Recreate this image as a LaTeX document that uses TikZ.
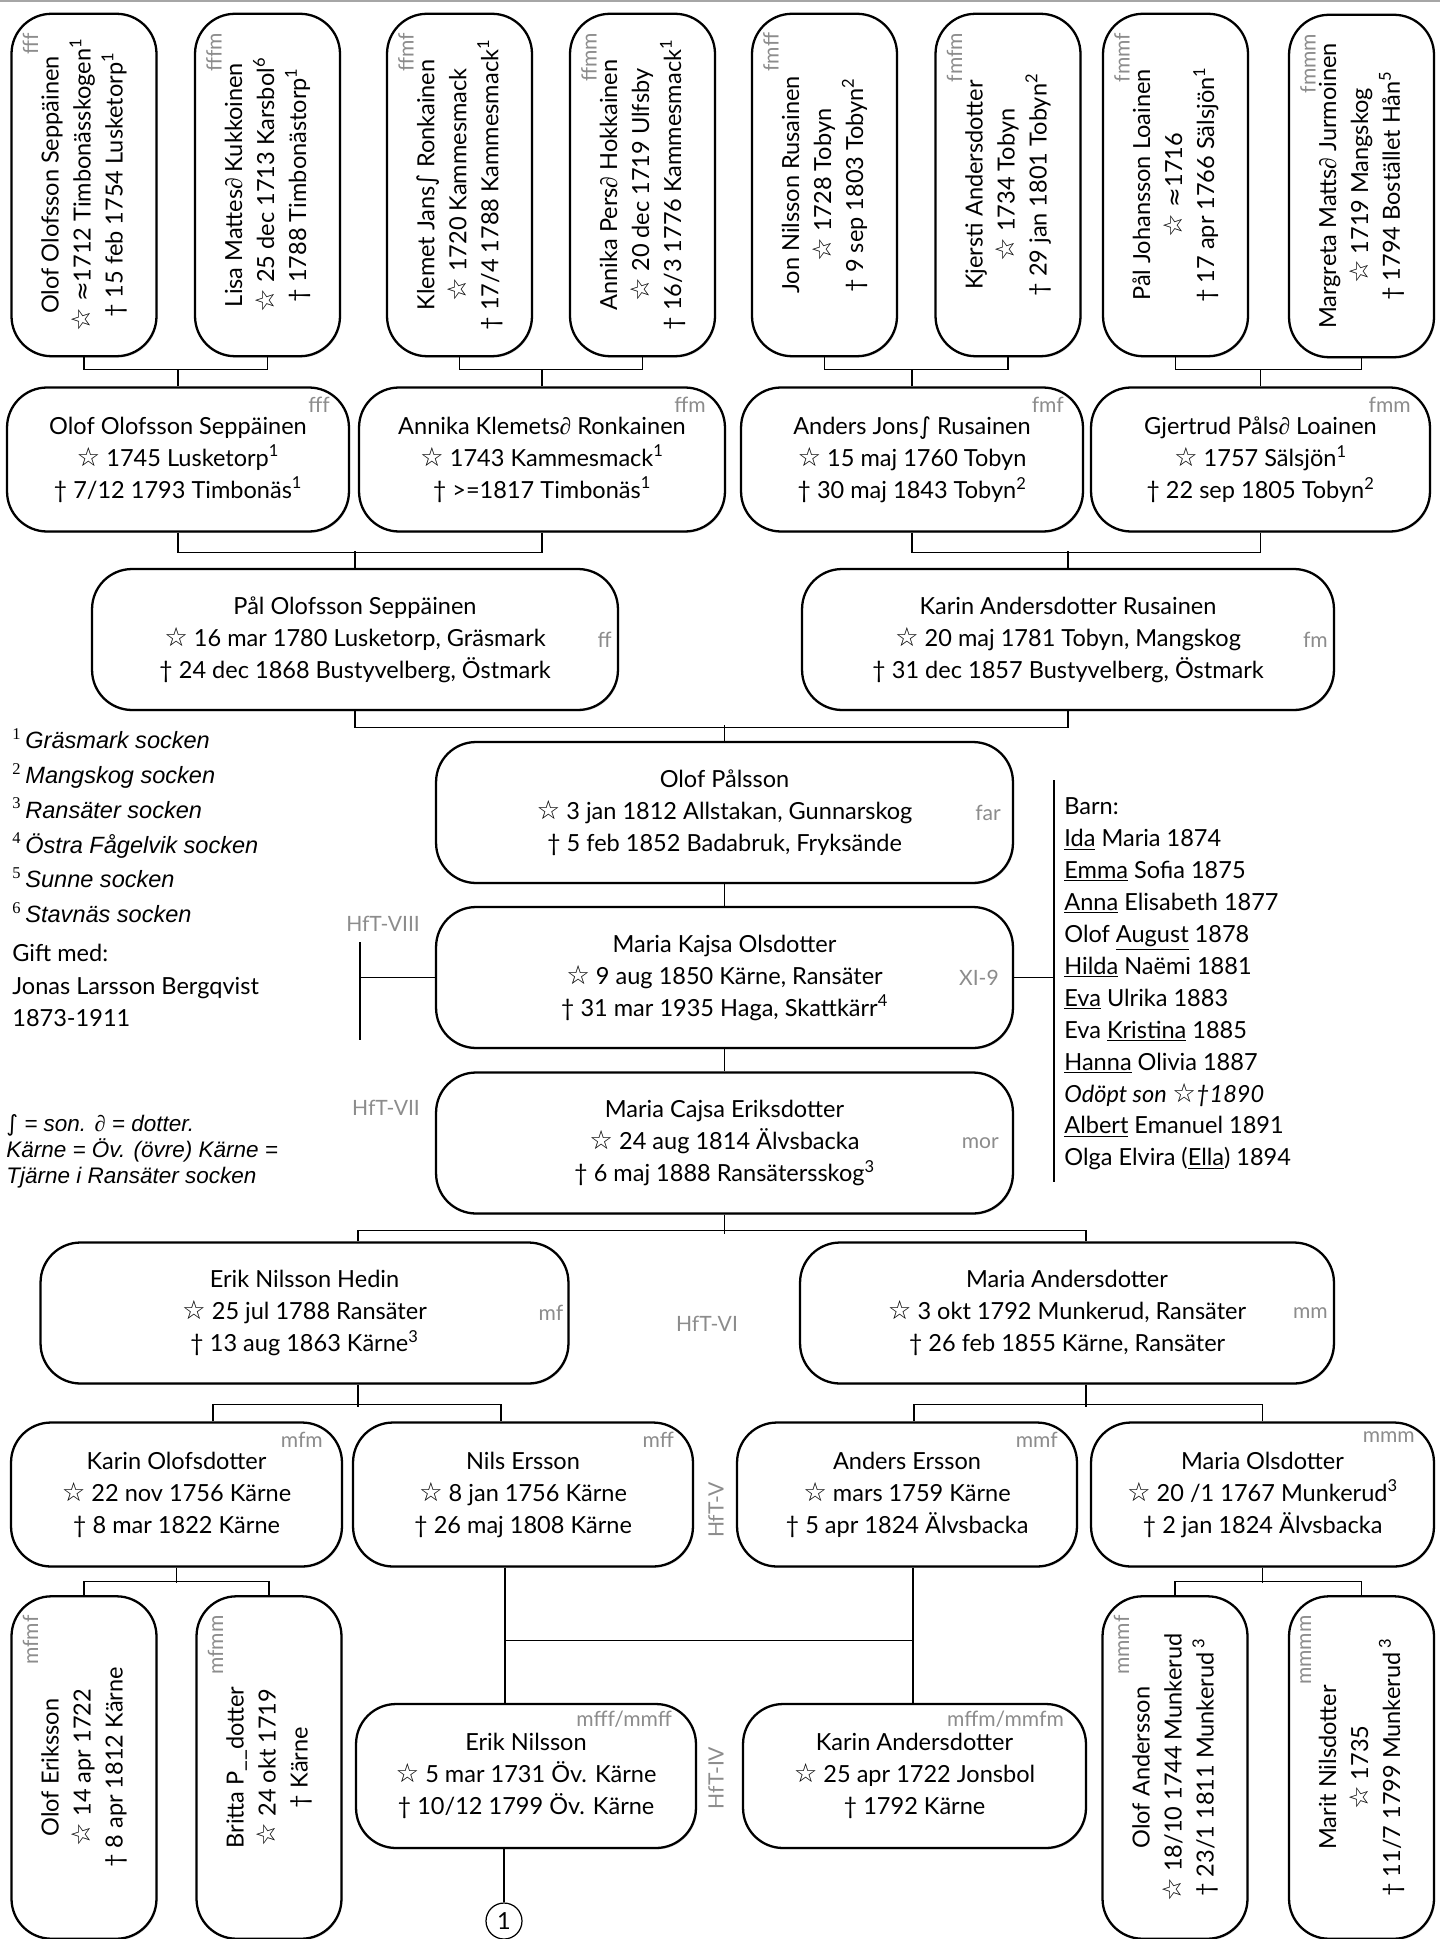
\documentclass[tikz,border=0pt]{standalone}
\usepackage{fontspec}
\setmainfont{Lato}
\newfontfamily\symfont{DejaVu Sans}
\newfontfamily\starfont[Scale=1.12]{DejaVu Sans}
\newfontfamily\notefont{Liberation Sans}
\newfontfamily\supfont{Liberation Serif}
\usetikzlibrary{shadows}

\newcommand{\born}{{\starfont ☆}}
\newcommand{\died}{†}
\newcommand{\son}{{\symfont ∫}}
\newcommand{\dtr}{{\supfont\itshape ∂}}
\newcommand{\ca}{{\symfont ≈}}
\newcommand{\fn}[1]{\textsuperscript{#1}}

\begin{document}
\begin{tikzpicture}[x=0.02cm, y=-0.02cm,
    font=\fontsize{13.4}{18.2}\selectfont,
    person/.style={draw, line width=1.3pt, rounded corners=0.8cm, fill=white,
      align=center, inner sep=0pt,
      drop shadow={shadow xshift=0.6pt, shadow yshift=-0.8pt, opacity=0.3}},
    tag/.style={text=black!45, inner sep=0pt, font=\fontsize{12}{12}\selectfont},
    link/.style={line width=0.7pt},
    note/.style={align=left, anchor=north west, inner sep=0pt}]

    \useasboundingbox (0,0) rectangle (1440,1939);
    \draw[black!35, line width=1.6pt] (0,1) -- (1440,1);

    % oldest generation, boxes turned on their side
    \foreach \n/\x/\y/\tg/\nm/\bd/\dd in {
        ffff/84/185/fff/{Olof Olofsson Seppäinen}/{\born\ \ca1712 Timbonässkogen\fn{1}}/{\died\ 15 feb 1754 Lusketorp\fn{1}},
        fffm/267.5/185/fffm/{Lisa Mattes\dtr\ Kukkoinen}/{\born\ 25 dec 1713 Karsbol\fn{6}}/{\died\ 1788 Timbonästorp\fn{1}},
        ffmf/459.5/185/ffmf/{Klemet Jans\son\ Ronkainen}/{\born\ 1720 Kammesmack}/{\died\ 17/4 1788 Kammesmack\fn{1}},
        ffmm/642.5/185/ffmm/{Annika Pers\dtr\ Hokkainen}/{\born\ 20 dec 1719 Ulfsby}/{\died\ 16/3 1776 Kammesmack\fn{1}},
        fmff/824.5/185/fmff/{Jon Nilsson Rusainen}/{\born\ 1728 Tobyn}/{\died\ 9 sep 1803 Tobyn\fn{2}},
        fmfm/1008/185/fmfm/{Kjersti Andersdotter}/{\born\ 1734 Tobyn}/{\died\ 29 jan 1801 Tobyn\fn{2}},
        fmmf/1175.5/185/fmmf/{Pål Johansson Loainen}/{\born\ \ca1716}/{\died\ 17 apr 1766 Sälsjön\fn{1}},
        fmmm/1361.5/186/fmmm/{Margreta Matts\dtr\ Jurmoinen}/{\born\ 1719 Mangskog}/{\died\ 1794 Bostället Hån\fn{5}},
        mfmf/84/1767.5/mfmf/{Olof Eriksson}/{\born\ 14 apr 1722}/{\died\ 8 apr 1812 Kärne},
        mfmm/269/1767.5/mfmm/{Britta P\_\_dotter}/{\born\ 24 okt 1719}/{\died\ Kärne},
        mmmf/1175/1767.5/mmmf/{Olof Andersson}/{\born\ 18/10 1744 Munkerud}/{\died\ 23/1 1811 Munkerud\,\fn{3}},
        mmmm/1361.5/1767.5/mmmm/{Marit Nilsdotter}/{\born\ 1735}/{\died\ 11/7 1799 Munkerud\,\fn{3}}} {
        \node[person, rotate=90, minimum width=6.85cm, minimum height=2.9cm] (\n) at (\x,\y) {\nm\\\bd\\\dd};
        \node[tag, rotate=90, anchor=north east] at ([xshift=0.24cm, yshift=-0.4cm]\n.north east) {\tg};
    }

    % boxes with the tag in the upper right corner
    \foreach \n/\x/\y/\w/\nm/\bd/\dd in {
        fff/178/459.5/6.84/{Olof Olofsson Seppäinen}/{\born\ 1745 Lusketorp\fn{1}}/{\died\ 7/12 1793 Timbonäs\fn{1}},
        ffm/542/459.5/7.32/{Annika Klemets\dtr\ Ronkainen}/{\born\ 1743 Kammesmack\fn{1}}/{\died\ >=1817 Timbonäs\fn{1}},
        fmf/912/459.5/6.84/{Anders Jons\son\ Rusainen}/{\born\ 15 maj 1760 Tobyn}/{\died\ 30 maj 1843 Tobyn\fn{2}},
        fmm/1260.5/459.5/6.78/{Gjertrud Påls\dtr\ Loainen}/{\born\ 1757 Sälsjön\fn{1}}/{\died\ 22 sep 1805 Tobyn\fn{2}},
        mfm/176.5/1494.5/6.62/{Karin Olofsdotter}/{\born\ 22 nov 1756 Kärne}/{\died\ 8 mar 1822 Kärne},
        mff/523/1494.5/6.8/{Nils Ersson}/{\born\ 8 jan 1756 Kärne}/{\died\ 26 maj 1808 Kärne},
        mmf/907/1494.5/6.8/{Anders Ersson}/{\born\ mars 1759 Kärne}/{\died\ 5 apr 1824 Älvsbacka},
        mmm/1262.5/1494.5/6.86/{Maria Olsdotter}/{\born\ 20 /1 1767 Munkerud\fn{3}}/{\died\ 2 jan 1824 Älvsbacka}} {
        \node[person, minimum width=\w cm, minimum height=2.88cm] (\n) at (\x,\y) {\nm\\\bd\\\dd};
        \node[tag, anchor=north east] at ([xshift=-0.4cm, yshift=-0.2cm]\n.north east) {\n};
    }
    \node[person, minimum width=6.8cm, minimum height=2.88cm] (mfff) at (526,1776)
        {Erik Nilsson\\\born\ 5 mar 1731 Öv. Kärne\\\died\ 10/12 1799 Öv. Kärne};
    \node[tag, anchor=north east] at ([xshift=-0.5cm, yshift=-0.16cm]mfff.north east) {mfff/mmff};
    \node[person, minimum width=6.86cm, minimum height=2.88cm] (mffm) at (914.5,1776)
        {Karin Andersdotter\\\born\ 25 apr 1722 Jonsbol\\\died\ 1792 Kärne};
    \node[tag, anchor=north east] at ([xshift=-0.46cm, yshift=-0.16cm]mffm.north east) {mffm/mmfm};

    % wide boxes with the tag at the right side
    \foreach \n/\x/\y/\w/\o/\tg/\nm/\bd/\dd in {
        ff/355/639.5/10.52/0.14/ff/{Pål Olofsson Seppäinen}/{\born\ 16 mar 1780 Lusketorp, Gräsmark}/{\died\ 24 dec 1868 Bustyvelberg, Östmark},
        fm/1068/639.5/10.64/0.14/fm/{Karin Andersdotter Rusainen}/{\born\ 20 maj 1781 Tobyn, Mangskog}/{\died\ 31 dec 1857 Bustyvelberg, Östmark},
        far/724.5/812.5/11.54/0.26/far/{Olof Pålsson}/{\born\ 3 jan 1812 Allstakan, Gunnarskog}/{\died\ 5 feb 1852 Badabruk, Fryksände},
        child/724.5/977.5/11.54/0.3/XI-9/{Maria Kajsa Olsdotter}/{\born\ 9 aug 1850 Kärne, Ransäter}/{\died\ 31 mar 1935 Haga, Skattkärr\fn{4}},
        mor/724.5/1143/11.54/0.3/mor/{Maria Cajsa Eriksdotter}/{\born\ 24 aug 1814 Älvsbacka}/{\died\ 6 maj 1888 Ransätersskog\fn{3}},
        mf/304.5/1313/10.56/0.12/mf/{Erik Nilsson Hedin}/{\born\ 25 jul 1788 Ransäter}/{\died\ 13 aug 1863 Kärne\fn{3}},
        mm/1067/1313/10.68/0.14/mm/{Maria Andersdotter}/{\born\ 3 okt 1792 Munkerud, Ransäter}/{\died\ 26 feb 1855 Kärne, Ransäter}} {
        \node[person, minimum width=\w cm, minimum height=2.82cm] (\n) at (\x,\y) {\nm\\\bd\\\dd};
        \node[tag, anchor=east] at ([xshift=-\o cm]\n.east) {\tg};
    }

    % father's side
    \foreach \p/\q/\k in {ffff/fffm/fff, ffmf/ffmm/ffm, fmff/fmfm/fmf, fmmf/fmmm/fmm} {
        \draw[link] (\p.west) -- ++(0,12.5) -| (\q.west);
        \draw[link] (\k.north) -- ++(0,-17);
    }
    \foreach \p/\q/\k in {fff/ffm/ff, fmf/fmm/fm} {
        \draw[link] (\p.south) -- ++(0,20) -| (\q.south);
        \draw[link] (\k.north) -- ++(0,-17);
    }
    \draw[link] (ff.south) -- ++(0,16) -| (fm.south);
    \draw[link] (far.north) -- ++(0,-16);
    \draw[link] (far.south) -- (child.north);
    \draw[link] (child.south) -- (mor.north);

    % mother's side
    \draw[link] (mor.south) -- ++(0,19);
    \draw[link] ([xshift=1.07cm]mf.north) -- ++(0,-11) -| ([xshift=0.38cm]mm.north);
    \draw[link] ([xshift=1.07cm]mf.south) -- ++(0,22);
    \draw[link] ([xshift=0.73cm]mfm.north) -- ++(0,-17) -| ([xshift=-0.44cm]mff.north);
    \draw[link] ([xshift=0.38cm]mm.south) -- ++(0,22);
    \draw[link] ([xshift=0.14cm]mmf.north) -- ++(0,-17) -| (mmm.north);
    \draw[link] (mfm.south) -- ++(0,15.5);
    \draw[link] (mfmf.east) -- ++(0,-14) -| (mfmm.east);
    \draw[link] (mmm.south) -- ++(0,15.5);
    \draw[link] (mmmf.east) -- ++(0,-14) -| (mmmm.east);

    % Nils and Anders are brothers
    \coordinate (nils) at ([xshift=-0.36cm]mff.south);
    \coordinate (anders) at ([xshift=0.12cm]mmf.south);
    \path (nils) ++(0,72.5) coordinate (nilsbar);
    \draw[link] (nils) -- (nils |- mfff.north);
    \draw[link] (anders) -- (anders |- mffm.north);
    \draw[link] (nilsbar) -- (nilsbar -| anders);

    % continues on sheet 1
    \node[draw, circle, line width=0.7pt, inner sep=0pt, minimum size=0.72cm] (ref1) at (504,1921) {1};
    \draw[link] (ref1.north) -- (ref1.north |- mfff.south);

    % marriage and children
    \coordinate (gifttop) at (360,942);
    \coordinate (giftbot) at (360,1040);
    \draw[link] (gifttop) -- (giftbot);
    \draw[link] (child.west) -- (child.west -| gifttop);
    \coordinate (barntop) at (1054,780);
    \coordinate (barnbot) at (1054,1182);
    \draw[link] (barntop) -- (barnbot);
    \draw[link] (child.east) -- (child.east -| barntop);

    \node[note] (barn) at (1064,797) {Barn:\\
        \underline{Ida} Maria 1874\\
        \underline{Emma} Sofia 1875\\
        \underline{Anna} Elisabeth 1877\\
        Olof \underline{August} 1878\\
        \underline{Hilda} Naëmi 1881\\
        \underline{Eva} Ulrika 1883\\
        Eva \underline{Kristina} 1885\\
        \underline{Hanna} Olivia 1887\\
        \textit{Odöpt son \born\died1890}\\
        \underline{Albert} Emanuel 1891\\
        Olga Elvira (\underline{Ella}) 1894};
    \node[note, font=\fontsize{13.4}{18.5}\selectfont] (gift) at (12,944)
        {Gift med:\\Jonas Larsson Bergqvist\\1873-1911};

    % footnotes
    \node[note, font=\notefont\itshape\fontsize{13.4}{19.85}\selectfont] (socknar) at (12,728) {%
        \textsuperscript{\supfont\upshape 1}\,Gräsmark socken\\
        \textsuperscript{\supfont\upshape 2}\,Mangskog socken\\
        \textsuperscript{\supfont\upshape 3}\,Ransäter socken\\
        \textsuperscript{\supfont\upshape 4}\,Östra Fågelvik socken\\
        \textsuperscript{\supfont\upshape 5}\,Sunne socken\\
        \textsuperscript{\supfont\upshape 6}\,Stavnäs socken};
    \node[note, font=\notefont\itshape\fontsize{12.8}{14.8}\selectfont] (legend) at (6,1114)
        {\son\ = son. \dtr\ = dotter.\\Kärne = Öv. (övre) Kärne =\\Tjärne i Ransäter socken};

    % generation marks
    \node[tag] (hft8) at (383,924) {HfT-VIII};
    \node[tag] (hft7) at (386,1108) {HfT-VII};
    \node[tag] (hft6) at (707,1324) {HfT-VI};
    \node[tag, rotate=90] (hft5) at (716,1510) {HfT-V};
    \node[tag, rotate=90] (hft4) at (716,1778) {HfT-IV};
\end{tikzpicture}
\end{document}
